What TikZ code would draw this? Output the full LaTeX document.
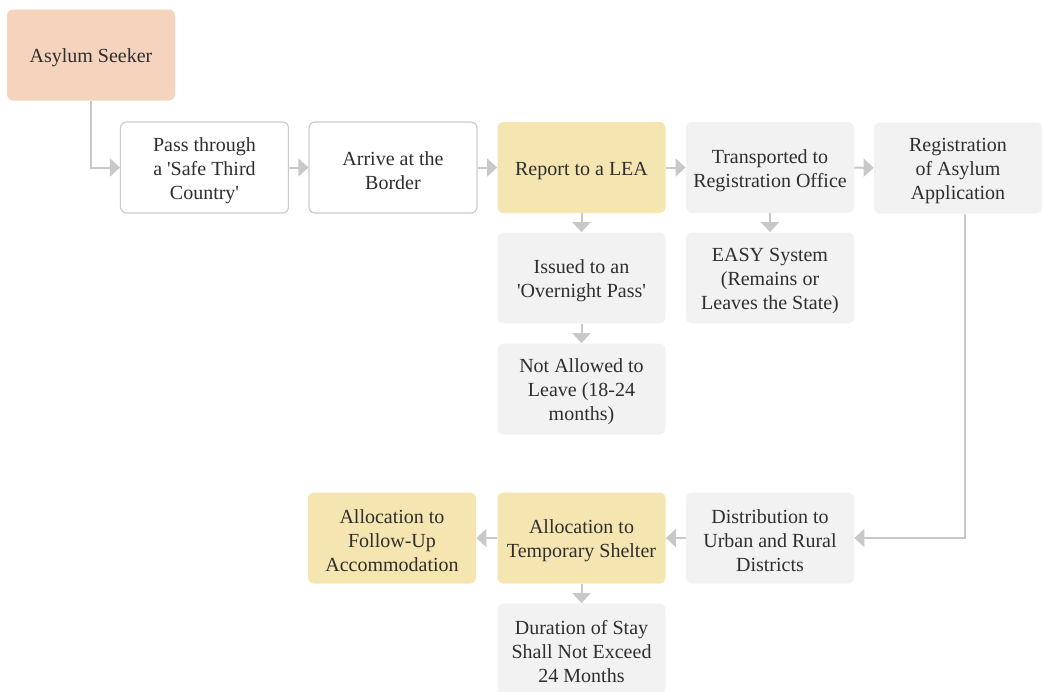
\documentclass[tikz,border=0pt]{standalone}
\usepackage{fontspec}
\setmainfont{Liberation Serif}
\usepackage{tikz}
\usetikzlibrary{arrows.meta, calc}
\definecolor{peach}{HTML}{F5D3BD}
\definecolor{sand}{HTML}{F5E5B0}
\definecolor{pale}{HTML}{F2F2F2}
\definecolor{rim}{HTML}{CCCCCC}
\definecolor{link}{HTML}{C8C8C8}
\definecolor{ink}{HTML}{2E2E2E}
\newcommand{\sq}{\textquotesingle}
\newcommand{\lift}{\rule{0pt}{10pt}}

\begin{document}
\begin{tikzpicture}[x=0.5pt, y=-0.5pt,
    box/.style={rounded corners=3pt, minimum width=84pt, minimum height=45.5pt,
      inner sep=0pt, align=center, text=ink, font=\fontsize{10}{12}\selectfont},
    plain/.style={box, draw=rim, line width=0.6pt, fill=white},
    grey/.style={box, fill=pale},
    gold/.style={box, fill=sand},
    flow/.style={draw=link, line width=1pt, -{Triangle[length=5pt, width=9pt]}}]
  \useasboundingbox (0,0) rectangle (1043,691);

  \node[box, fill=peach] (seeker) at (91,55) {\lift Asylum Seeker};

  % top row
  \node[plain] (pass)   at (204.5,167.5) {\lift Pass through\\a \sq Safe Third\\Country\sq};
  \node[plain] (border) at (393,167.5)   {\lift Arrive at the\\Border};
  \node[gold]  (lea)    at (581.5,167.5) {\lift Report to a LEA};
  \node[grey]  (office) at (770,167.5)   {\lift Transported to\\Registration Office};
  \node[grey]  (regist) at (958,168)     {\lift Registration\\of Asylum\\Application};

  % below the LEA and the office
  \node[grey] (pass2) at (581.5,278) {\lift Issued to an\\\sq Overnight Pass\sq};
  \node[grey] (stay)  at (581.5,389) {\lift Not Allowed to\\Leave (18-24\\months)};
  \node[grey] (easy)  at (770,278)   {\lift EASY System\\(Remains or\\Leaves the State)};

  % bottom row
  \node[grey] (distr)   at (770,538)   {\lift Distribution to\\Urban and Rural\\Districts};
  \node[gold] (shelter) at (581.5,538) {\lift Allocation to\\Temporary Shelter};
  \node[gold] (follow)  at (392,538)   {\lift Allocation to\\Follow-Up\\Accommodation};
  \node[grey] (limit)   at (581.5,649) {\lift Duration of Stay\\Shall Not Exceed\\24 Months};

  \coordinate (drop) at ($(regist.south)+(3.5pt,0)$);

  \draw[flow] (seeker.south) |- (pass.west);
  \draw[flow] (pass) -- (border);
  \draw[flow] (border) -- (lea);
  \draw[flow] (lea) -- (office);
  \draw[flow] (office) -- (regist);
  \draw[flow] (lea) -- (pass2);
  \draw[flow] (pass2) -- (stay);
  \draw[flow] (office) -- (easy);
  \draw[flow] (drop) |- (distr.east);
  \draw[flow] (distr) -- (shelter);
  \draw[flow] (shelter) -- (follow);
  \draw[flow] (shelter) -- (limit);
\end{tikzpicture}
\end{document}
